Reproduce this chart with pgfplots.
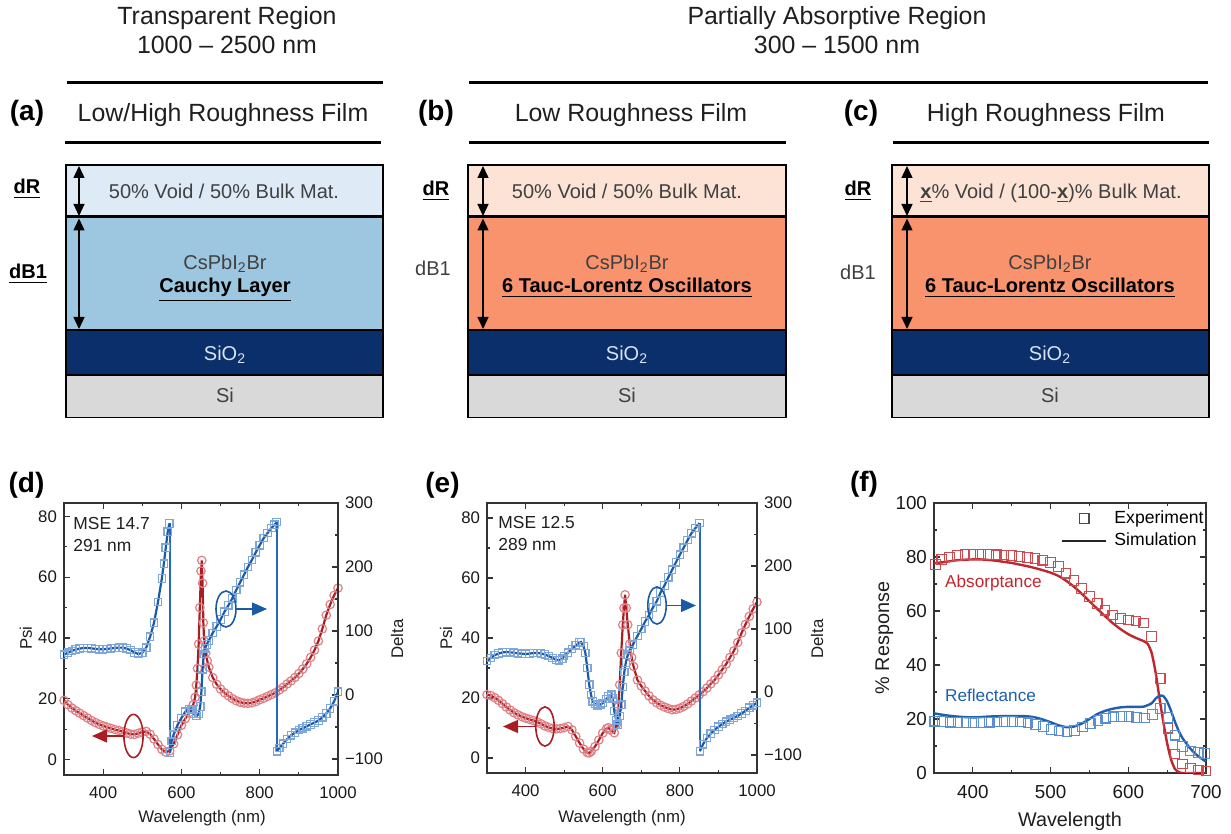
\documentclass[border=0pt]{standalone}
\usepackage{pgfplots}
\pgfplotsset{compat=1.18}
\usepackage{pgfplotstable}
\usepackage{fontspec}
\setmainfont{Liberation Sans}
\usetikzlibrary{arrows.meta}

\definecolor{psired}{HTML}{A81E22}
\definecolor{psimk}{HTML}{DE8086}
\definecolor{delblue}{HTML}{1B5AA6}
\definecolor{delmk}{HTML}{7FA6DA}
\definecolor{jumpblue}{HTML}{2468BC}
\definecolor{fred}{HTML}{C0272D}
\definecolor{fredmk}{HTML}{CC4A50}
\definecolor{fblue}{HTML}{1F60AC}
\definecolor{fbluemk}{HTML}{5A8ED0}
\definecolor{navy}{HTML}{0A2F6A}
\definecolor{lblue}{HTML}{DEEBF7}
\definecolor{mblue}{HTML}{9DC6E0}
\definecolor{lorange}{HTML}{FCE3D6}
\definecolor{morange}{HTML}{F8936E}
\definecolor{sigray}{HTML}{D9D9D9}
\definecolor{txtgray}{HTML}{404040}
\definecolor{sioTxt}{HTML}{D8E4F2}
\definecolor{axgray}{HTML}{333333}

\pgfplotstableread{
x y
300 19.5
310 18.1
320 17.0
330 16.1
340 15.3
350 14.5
360 13.7
370 12.9
380 12.2
390 11.6
400 11.1
410 10.7
420 10.3
430 9.9
440 9.6
450 9.2
460 8.8
470 8.4
480 8.3
490 8.7
500 9.1
510 9.3
520 8.4
530 6.8
540 5.0
550 3.4
560 2.5
570 2.9
580 5.2
590 8.2
600 11.3
610 13.5
620 15.5
630 18.0
635 20.5
638 24.5
641 30.0
644 38.0
647 50.0
650 62.0
652 65.5
654 58.0
656 45.0
658 39.0
662 35.0
666 32.5
670 30.4
680 27.0
690 24.8
700 23.2
710 22.0
720 21.0
730 20.1
740 19.4
750 18.9
760 18.6
770 18.5
780 18.7
790 19.1
800 19.7
810 20.2
820 20.8
830 21.4
840 22.0
850 22.9
860 23.8
870 24.9
880 25.9
890 27.0
900 28.3
910 29.8
920 31.5
930 33.6
940 36.0
950 39.0
960 43.0
970 47.5
980 51.0
990 54.0
1000 56.4
}\dpsi

\pgfplotstableread{
x y
300 63
310 66
320 69
330 71
340 72.5
350 73.5
360 73.5
370 73
380 72
390 71.5
400 71.4
410 72
420 72.8
430 73.5
440 74
450 74
460 72.5
470 70
480 66.5
490 64
500 66
510 74
520 91
530 113
540 145
550 182
555 205
560 230
565 255
569 268
570 nan
571 -90
575 -72
580 -62
590 -47
600 -36
610 -26
620 -22
625 -23
630 -29
638 -33
644 -30
648 -18
651 5
654 40
657 64
660 73
665 79
670 85
680 97
690 107
700 118
710 130
720 140
730 151
740 164
750 176
760 188
770 200
780 211
790 223
800 234
810 245
820 253
830 261
838 266
843 270
843.5 nan
844 -88
850 -83
860 -76
870 -69
880 -63
890 -59
900 -55
910 -52
920 -49
930 -46
940 -43
950 -40
960 -35
970 -29
980 -21
990 -10
1000 5
}\ddel

\pgfplotstableread{
x y
300 21.1
310 20.8
320 20.1
330 19.2
340 18.1
350 17.0
360 16.0
370 15.1
380 14.4
390 13.8
400 13.3
410 12.9
420 12.5
430 12.0
440 11.4
450 10.7
460 10.2
470 9.8
480 9.7
490 9.8
500 10.1
510 10.5
520 9.4
530 7.2
540 5.0
550 3.0
560 1.8
565 1.7
570 2.2
580 3.8
590 6.0
600 8.3
610 9.8
615 10.1
620 9.3
630 8.4
635 11.0
640 17.0
644 24.4
648 35.0
652 44.4
655 50.0
658 54.4
661 50.0
665 44.4
670 38.0
675 33.5
680 30.5
690 26.0
700 24.0
710 22.3
720 20.7
730 19.4
740 18.4
750 17.6
760 17.0
770 16.5
780 16.1
790 16.2
800 16.6
810 17.2
820 18.0
830 19.0
840 20.0
850 21.0
860 22.1
870 23.3
880 24.7
890 26.0
900 27.7
910 29.5
920 31.3
930 33.5
940 35.7
950 38.5
960 41.7
970 44.5
980 47.2
990 49.7
1000 52.0
}\epsi

\pgfplotstableread{
x y
300 49
310 54
320 58.5
330 61
340 62.8
350 63.5
360 63
370 62.3
380 61.5
390 60.8
400 60.3
410 61
420 61.8
430 62
440 61.3
450 59.6
460 57
470 54
480 51
487 50.3
495 53
500 57
510 62.5
520 68.5
530 74
540 78.5
544 79.4
550 73
555 62
560 38
565 11.6
570 -5
574 -14.8
580 -19
587 -21.2
595 -19.5
600 -17.5
610 -11
615 -7
622 -4.2
626 -10
630 -30
635 -45
639 -52
644 -38
648 -20
652 8
656 32
660 47
665 59.3
670 66.5
678 75
690 89
700 100
710 112
720 122
730 134
740 144
750 158
760 169
770 182
780 194
790 206
800 218
810 229
820 241
830 252
840 260
851 268
851.5 nan
852 -94
860 -83
870 -73
880 -66
890 -60
900 -55
910 -51
920 -47
930 -44
940 -41
950 -38
960 -34
970 -30
980 -25
990 -21
1000 -17
}\edel

\pgfplotstableread{
x y
350 77.7
360 78.0
370 78.4
380 78.8
390 79.0
400 79.1
410 79.1
420 78.9
430 78.6
440 78.2
450 77.8
460 77.2
470 76.6
480 75.9
490 75.1
500 74.2
510 73.0
520 71.2
530 69.0
540 66.4
550 63.6
560 60.8
570 58.1
580 55.5
590 53.3
600 51.4
610 50.0
620 48.8
625 47.8
630 44.5
635 37.5
640 28
645 19
650 11
655 5
660 1.5
665 0.3
670 0
680 0
690 0
700 0
}\fasim

\pgfplotstableread{
x y
352 77.3
360 79.0
370 80.0
380 80.6
390 80.9
400 81.0
410 81.0
420 80.9
430 80.8
440 80.7
450 80.5
460 80.2
470 79.9
480 79.4
490 78.8
500 78.0
510 76.5
520 74.0
530 71.3
540 68.3
550 65.3
560 62.7
570 60.3
580 58.5
590 57.3
600 56.7
610 56.3
620 55.6
630 50.6
641 35
651 16.6
660 7
670 3.3
680 1.8
690 1.1
700 0.7
}\faexp

\pgfplotstableread{
x y
350 22.1
360 21.6
370 21.2
380 20.9
390 20.7
400 20.6
410 20.7
420 20.9
430 21.0
440 21.1
450 21.1
460 21.1
470 21.0
480 20.6
490 19.8
500 18.8
510 17.7
520 17.0
530 17.2
540 18.3
550 20.0
560 21.8
570 23.0
580 23.8
590 24.3
600 24.5
610 24.5
620 24.6
630 25.8
635 27.5
640 28.6
645 28.5
650 26.5
655 23
660 19
665 15.5
670 12.8
680 9
690 6.2
700 4.2
}\frsim

\pgfplotstableread{
x y
351 19.2
361 19.0
371 18.8
381 18.7
391 18.7
401 18.7
411 18.7
421 18.8
431 18.9
441 19.0
451 19.0
461 18.9
471 18.6
481 18.0
491 17.2
501 16.2
511 15.6
521 15.3
531 15.8
541 17.0
551 18.3
561 19.5
571 20.3
581 20.8
591 21.0
601 20.9
611 20.6
621 20.4
631 21.6
641 23.8
651 20.5
660 14
670 9.8
680 8.2
690 7.6
698 7.3
}\frexp

\pgfplotsset{
  ebase/.style={
    scale only axis, anchor=south west,
    axis line style={line width=0.75pt, axgray},
    tick style={line width=0.55pt, axgray},
    tick align=inside,
    major tick length=3pt, minor tick length=1.6pt,
    tick label style={font=\fontsize{8.4}{9.8}\selectfont, text=black!90},
    xticklabel style={yshift=-2.5pt},
    /pgf/number format/assume math mode=true,
    /pgf/number format/1000 sep={},
  },
}

\newcommand{\layerstack}[4]{%
  \fill[#3] (#1,165) rectangle (#2,217);
  \fill[#4] (#1,217) rectangle (#2,330);
  \fill[navy] (#1,330) rectangle (#2,375);
  \fill[sigray] (#1,375) rectangle (#2,418);
  \draw[line width=0.6pt] (#1,165) rectangle (#2,417.5);
  \draw[line width=1.5pt] (#1,217) -- (#2,217);
  \draw[line width=0.8pt] (#1,330) -- (#2,330);
  \draw[line width=0.8pt] (#1,375) -- (#2,375);
}
\newcommand{\dArrows}[1]{%
  \draw[line width=0.7pt, {Triangle[length=6pt,width=5.5pt]}-{Triangle[length=6pt,width=5.5pt]}] (#1,166) -- (#1,216);
  \draw[line width=0.7pt, {Triangle[length=6pt,width=5.5pt]}-{Triangle[length=6pt,width=5.5pt]}] (#1,218.5) -- (#1,329);
}

\begin{document}
\begin{tikzpicture}
\useasboundingbox (0,0) rectangle (615.5pt,417pt);

% ---------------- (d) ----------------
\begin{axis}[ebase, at={(32pt,29.5pt)}, width=137pt, height=136pt,
  xmin=300, xmax=1000, ymin=-5.03, ymax=84.37,
  xtick={400,600,800,1000}, minor x tick num=1,
  ytick={0,20,40,60,80}, minor y tick num=1,
  ytick pos=left, xtick pos=both, xticklabel pos=lower,
  unbounded coords=jump]
\addplot[only marks, mark=o, mark size=2.1pt, psimk, mark options={line width=0.6pt}] table {\dpsi};
\addplot[psired, line width=1.1pt] table {\dpsi};
\end{axis}
\begin{axis}[ebase, at={(32pt,29.5pt)}, width=137pt, height=136pt,
  xmin=300, xmax=1000, ymin=-125, ymax=300,
  axis x line=none, axis y line*=right,
  ytick={-100,0,100,200,300}, yticklabels={−100,0,100,200,300}, minor y tick num=1,
  unbounded coords=jump]
\addplot[jumpblue, line width=1pt] coordinates {(570,268) (570,-90)};
\addplot[jumpblue, line width=1pt] coordinates {(843.5,270) (843.5,-88)};
\addplot[only marks, mark=square, mark size=1.85pt, delmk, mark options={line width=0.6pt}] table {\ddel};
\addplot[delblue, line width=1.1pt] table {\ddel};
\end{axis}

% ---------------- (e) ----------------
\begin{axis}[ebase, at={(243.5pt,30.5pt)}, width=135pt, height=135pt,
  xmin=300, xmax=1000, ymin=-5, ymax=85,
  xtick={400,600,800,1000}, minor x tick num=1,
  ytick={0,20,40,60,80}, minor y tick num=1,
  ytick pos=left, xtick pos=both, xticklabel pos=lower,
  unbounded coords=jump]
\addplot[only marks, mark=o, mark size=2.1pt, psimk, mark options={line width=0.6pt}] table {\epsi};
\addplot[psired, line width=1.1pt] table {\epsi};
\end{axis}
\begin{axis}[ebase, at={(243.5pt,30.5pt)}, width=135pt, height=135pt,
  xmin=300, xmax=1000, ymin=-128.5, ymax=300,
  axis x line=none, axis y line*=right,
  ytick={-100,0,100,200,300}, yticklabels={−100,0,100,200,300}, minor y tick num=1,
  unbounded coords=jump]
\addplot[jumpblue, line width=1pt] coordinates {(851.5,268) (851.5,-94)};
\addplot[only marks, mark=square, mark size=1.85pt, delmk, mark options={line width=0.6pt}] table {\edel};
\addplot[delblue, line width=1.1pt] table {\edel};
\end{axis}

% ---------------- (f) ----------------
\begin{axis}[ebase, at={(467pt,30.5pt)}, width=136pt, height=135pt,
  xmin=350, xmax=700, ymin=0, ymax=100,
  xtick={400,500,600,700}, minor x tick num=1,
  ytick={0,20,40,60,80,100}, minor y tick num=1,
  tick label style={font=\fontsize{9.4}{11}\selectfont},
  legend style={at={(rel axis cs:0.465,0.985)}, anchor=north west, draw=none, fill=none,
    font=\fontsize{8.8}{10}\selectfont, row sep=0.5pt, inner sep=0pt, nodes={inner sep=1.5pt}},
  legend cell align=left,
  legend image code/.code={\draw[mark repeat=2,mark phase=2,#1] plot coordinates {(0pt,0pt) (11pt,0pt) (22pt,0pt)};},
  ]
\addlegendimage{only marks, mark=square, mark size=2.4pt, black!70, mark options={line width=0.55pt}}
\addlegendimage{black!85, line width=1.3pt}
\legend{\hspace{2pt}Experiment, \hspace{2pt}Simulation}
\addplot[only marks, mark=square, mark size=2.4pt, fredmk, mark options={line width=0.55pt}] table {\faexp};
\addplot[only marks, mark=square, mark size=2.4pt, fbluemk, mark options={line width=0.55pt}] table {\frexp};
\addplot[fred, line width=1.2pt, smooth, tension=0.4] table {\fasim};
\addplot[fblue, line width=1.2pt, smooth, tension=0.4] table {\frsim};
\node[anchor=west, text=fred, font=\fontsize{8.6}{10}\selectfont] at (rel axis cs:0.015,0.7037) {Absorptance};
\node[anchor=west, text=fblue, font=\fontsize{8.6}{10}\selectfont] at (rel axis cs:0.015,0.289) {Reflectance};
\end{axis}

% ---------------- schematic & annotations (pixel coordinates) ----------------
\begin{scope}[x=0.5pt, y=-0.5pt, shift={(0pt,417pt)}]
\tikzset{ttl/.style={font=\fontsize{12.45}{15}\selectfont, text=black!88, anchor=base, inner sep=0pt},
         pl/.style={font=\bfseries\fontsize{14}{16}\selectfont, anchor=base, inner sep=0pt},
         lt/.style={font=\fontsize{10}{12}\selectfont, text=txtgray, anchor=base, inner sep=0pt},
         lb/.style={font=\bfseries\fontsize{10}{12}\selectfont, anchor=base, inner sep=0pt},
         al/.style={font=\fontsize{8.4}{10}\selectfont, text=black!88, anchor=base, inner sep=0pt},
         alf/.style={font=\fontsize{9.9}{12}\selectfont, text=black!88, anchor=base, inner sep=0pt}}
\node[ttl] at (227,25) {Transparent Region};
\node[ttl] at (227,54) {1000 – 2500 nm};
\node[ttl] at (837,25) {Partially Absorptive Region};
\node[ttl] at (837,54) {300 – 1500 nm};
\draw[line width=1.5pt] (67,83) -- (383,83);
\draw[line width=1.5pt] (469,83) -- (1208,83);
\draw[line width=1.5pt] (65,143) -- (381,143);
\draw[line width=1.5pt] (469,143) -- (786,143);
\draw[line width=1.5pt] (893,143) -- (1209,143);
\node[pl] at (27,121) {(a)};
\node[pl] at (436,121) {(b)};
\node[pl] at (861,121) {(c)};
\node[ttl] at (223,122) {Low/High Roughness Film};
\node[ttl] at (631,122) {Low Roughness Film};
\node[ttl] at (1046,122) {High Roughness Film};

\layerstack{66}{383}{lblue}{mblue}
\layerstack{468}{786}{lorange}{morange}
\layerstack{892}{1209}{lorange}{morange}
\dArrows{79}
\dArrows{483}
\dArrows{907}

% (a) texts
\node[lb] at (27,194) {\underline{dR}};
\node[lb] at (28,279) {\underline{dB1}};
\node[lt] at (224,199) {50\% Void / 50\% Bulk Mat.};
\node[lt] at (225,270) {CsPbI\textsubscript{2}Br};
\node[lb] at (225,293) {\underline{Cauchy Layer}};
\node[lt, text=sioTxt] at (225,361) {SiO\textsubscript{2}};
\node[lt] at (225,403) {Si};
% (b) texts
\node[lb] at (436,196) {\underline{dR}};
\node[lt] at (433,276) {dB1};
\node[lt] at (627,199) {50\% Void / 50\% Bulk Mat.};
\node[lt] at (627,270) {CsPbI\textsubscript{2}Br};
\node[lb] at (627,293) {\underline{6 Tauc-Lorentz Oscillators}};
\node[lt, text=sioTxt] at (627,361) {SiO\textsubscript{2}};
\node[lt] at (627,403) {Si};
% (c) texts
\node[lb] at (858,196) {\underline{dR}};
\node[lt] at (858,280) {dB1};
\node[lt] at (1051,199) {\underline{\textbf{x}}\% Void / (100-\underline{\textbf{x}})\% Bulk Mat.};
\node[lt] at (1050,270) {CsPbI\textsubscript{2}Br};
\node[lb] at (1050,293) {\underline{6 Tauc-Lorentz Oscillators}};
\node[lt, text=sioTxt] at (1050,361) {SiO\textsubscript{2}};
\node[lt] at (1050,403) {Si};

% panel labels
\node[pl] at (26.5,493) {(d)};
\node[pl] at (442.5,493) {(e)};
\node[pl] at (864,492) {(f)};

% axis labels
\node[al] at (202,823) {Wavelength (nm)};
\node[al] at (622,823) {Wavelength (nm)};
\node[alf] at (1070,827) {Wavelength};
\node[al, rotate=90] at (32,638) {Psi};
\node[al, rotate=90] at (452,638) {Psi};
\node[al, rotate=90] at (403,639) {Delta};
\node[al, rotate=90] at (823,639) {Delta};
\node[alf, rotate=90] at (889,638) {\% Response};

% MSE notes
\node[al, anchor=base west, font=\fontsize{8.7}{10}\selectfont] at (73,530) {MSE 14.7};
\node[al, anchor=base west, font=\fontsize{8.7}{10}\selectfont] at (73,552) {291 nm};
\node[al, anchor=base west, font=\fontsize{8.7}{10}\selectfont] at (498,529) {MSE 12.5};
\node[al, anchor=base west, font=\fontsize{8.7}{10}\selectfont] at (498,551) {289 nm};

% ellipses and arrows
\draw[psired, line width=0.8pt] (133.5,736) ellipse [x radius=4.8pt, y radius=10.8pt];
\draw[psired, line width=0.6pt, -{Triangle[length=7.5pt,width=6.5pt]}] (124,736) -- (92,736);
\draw[delblue, line width=0.8pt] (226,609) ellipse [x radius=5pt, y radius=9pt];
\draw[delblue, line width=0.6pt, -{Triangle[length=7.5pt,width=6.5pt]}] (236,609) -- (267,609);
\draw[psired, line width=0.8pt] (545,726.5) ellipse [x radius=4.6pt, y radius=9.8pt];
\draw[psired, line width=0.6pt, -{Triangle[length=7.5pt,width=6.5pt]}] (536,726.5) -- (503,726.5);
\draw[delblue, line width=0.8pt] (657,605.5) ellipse [x radius=4.6pt, y radius=9.3pt];
\draw[delblue, line width=0.6pt, -{Triangle[length=7.5pt,width=6.5pt]}] (666,605.5) -- (696,605.5);
\end{scope}
\end{tikzpicture}
\end{document}
